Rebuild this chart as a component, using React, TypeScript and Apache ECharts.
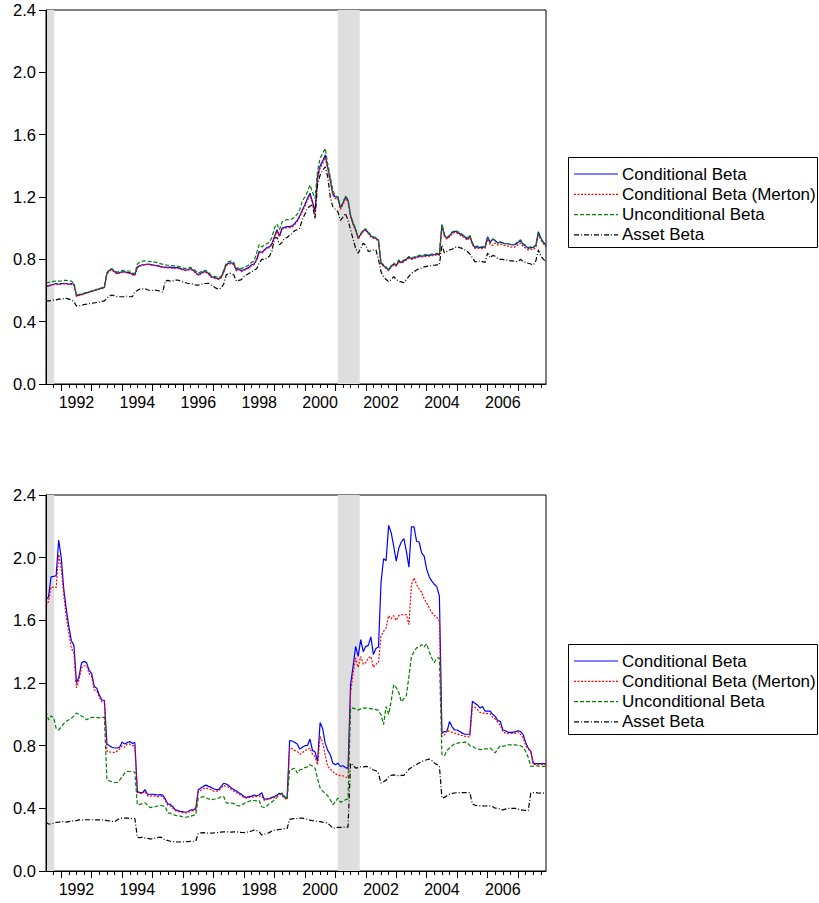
import React, { useEffect, useRef } from "react";
import * as echarts from "echarts";

// ---------- time axis (monthly, Jul 1991 .. Dec 2007) ----------
const START_YEAR = 1991.5;
const N_MONTHS = 198;
const DATES: number[] = Array.from({ length: N_MONTHS }, (_, i) => START_YEAR + i / 12);
const X_MIN = 1991.5;
const X_MAX = 2007.917;
const YEAR_TICKS = [1992, 1993, 1994, 1995, 1996, 1997, 1998, 1999, 2000, 2001, 2002, 2003, 2004, 2005, 2006, 2007];
const YEAR_LABELS = [1992, 1994, 1996, 1998, 2000, 2002, 2004, 2006];
const Y_MIN = 0;
const Y_MAX = 2.4;
const Y_STEP = 0.4;

// recession shading periods [start, end]
const RECESSIONS: [number, number][] = [
  [1991.5, 1991.77],
  [2001.08, 2001.8],
];

const SERIES_NAMES = ["Conditional Beta", "Conditional Beta (Merton)", "Unconditional Beta", "Asset Beta"];

// ---------- top panel ----------
const TOP_BLUE = [
  0.63, 0.63, 0.635, 0.64, 0.645, 0.64,
  0.645, 0.645, 0.645, 0.64, 0.645, 0.64, 0.565, 0.57, 0.575, 0.58, 0.585, 0.59,
  0.595, 0.6, 0.605, 0.61, 0.615, 0.62, 0.71, 0.73, 0.736, 0.72, 0.71, 0.715,
  0.72, 0.72, 0.715, 0.715, 0.705, 0.7, 0.75, 0.76, 0.765, 0.767, 0.77, 0.768,
  0.765, 0.762, 0.76, 0.755, 0.752, 0.75, 0.748, 0.75, 0.745, 0.748, 0.745, 0.74,
  0.735, 0.73, 0.735, 0.74, 0.73, 0.715, 0.7, 0.71, 0.72, 0.72, 0.71, 0.69,
  0.685, 0.68, 0.675, 0.685, 0.72, 0.765, 0.775, 0.778, 0.77, 0.73, 0.74, 0.725,
  0.735, 0.74, 0.75, 0.765, 0.77, 0.8, 0.85, 0.845, 0.86, 0.875, 0.88, 0.9,
  0.945, 0.99, 0.95, 1.0, 1.005, 1.01, 1.01, 1.015, 1.03, 1.05, 1.08, 1.117,
  1.15, 1.19, 1.224, 1.17, 1.106, 1.33, 1.4, 1.43, 1.47, 1.39, 1.31, 1.22,
  1.2, 1.2, 1.13, 1.16, 1.2, 1.18, 1.08, 1.03, 0.99, 0.935, 0.96, 0.985,
  0.99, 0.97, 0.95, 0.94, 0.935, 0.92, 0.775, 0.76, 0.745, 0.732, 0.755, 0.77,
  0.76, 0.79, 0.78, 0.79, 0.8, 0.813, 0.805, 0.81, 0.815, 0.82, 0.82, 0.822,
  0.825, 0.825, 0.828, 0.83, 0.834, 0.83, 1.02, 0.953, 0.935, 0.95, 0.97, 0.98,
  0.975, 0.965, 0.955, 0.945, 0.93, 0.95, 0.9, 0.877, 0.88, 0.876, 0.877, 0.88,
  0.945, 0.91, 0.93, 0.92, 0.905, 0.91, 0.905, 0.9, 0.9, 0.895, 0.892, 0.895,
  0.91, 0.92, 0.895, 0.885, 0.87, 0.877, 0.875, 0.89, 0.977, 0.935, 0.91, 0.89,
];
const TOP_RED = [
  0.625, 0.628, 0.632, 0.638, 0.64, 0.638,
  0.64, 0.642, 0.642, 0.638, 0.64, 0.636, 0.562, 0.568, 0.572, 0.578, 0.583, 0.588,
  0.592, 0.598, 0.602, 0.608, 0.612, 0.618, 0.705, 0.726, 0.732, 0.716, 0.706, 0.712,
  0.716, 0.716, 0.712, 0.71, 0.7, 0.697, 0.745, 0.757, 0.762, 0.764, 0.766, 0.764,
  0.762, 0.758, 0.756, 0.752, 0.748, 0.746, 0.745, 0.746, 0.742, 0.744, 0.742, 0.737,
  0.732, 0.727, 0.731, 0.736, 0.726, 0.712, 0.697, 0.706, 0.716, 0.716, 0.706, 0.686,
  0.681, 0.676, 0.671, 0.68, 0.715, 0.76, 0.77, 0.773, 0.765, 0.726, 0.735, 0.72,
  0.73, 0.735, 0.745, 0.76, 0.765, 0.795, 0.843, 0.84, 0.855, 0.87, 0.875, 0.895,
  0.94, 0.982, 0.944, 0.993, 0.998, 1.003, 1.004, 1.008, 1.022, 1.043, 1.072, 1.108,
  1.14, 1.18, 1.212, 1.16, 1.1, 1.31, 1.385, 1.415, 1.455, 1.38, 1.3, 1.212,
  1.19, 1.19, 1.12, 1.15, 1.19, 1.17, 1.072, 1.022, 0.983, 0.93, 0.955, 0.978,
  0.983, 0.964, 0.944, 0.935, 0.93, 0.915, 0.77, 0.755, 0.74, 0.728, 0.75, 0.765,
  0.755, 0.783, 0.775, 0.785, 0.795, 0.808, 0.8, 0.805, 0.81, 0.815, 0.815, 0.817,
  0.82, 0.82, 0.823, 0.825, 0.829, 0.825, 1.01, 0.945, 0.93, 0.945, 0.963, 0.973,
  0.968, 0.958, 0.948, 0.938, 0.923, 0.94, 0.893, 0.87, 0.872, 0.868, 0.87, 0.872,
  0.93, 0.895, 0.89, 0.905, 0.892, 0.898, 0.892, 0.888, 0.885, 0.88, 0.878, 0.88,
  0.895, 0.905, 0.882, 0.872, 0.86, 0.865, 0.862, 0.876, 0.955, 0.925, 0.9, 0.88,
];
const TOP_GREEN = [
  0.65, 0.652, 0.655, 0.658, 0.66, 0.66,
  0.662, 0.665, 0.665, 0.662, 0.66, 0.65, 0.57, 0.575, 0.578, 0.583, 0.588, 0.592,
  0.598, 0.602, 0.607, 0.612, 0.617, 0.622, 0.715, 0.735, 0.74, 0.725, 0.718, 0.722,
  0.728, 0.73, 0.725, 0.725, 0.712, 0.708, 0.77, 0.782, 0.788, 0.79, 0.788, 0.785,
  0.785, 0.782, 0.778, 0.772, 0.768, 0.765, 0.762, 0.762, 0.758, 0.758, 0.755, 0.75,
  0.745, 0.74, 0.744, 0.748, 0.738, 0.725, 0.71, 0.72, 0.73, 0.728, 0.718, 0.698,
  0.692, 0.687, 0.682, 0.692, 0.73, 0.776, 0.785, 0.788, 0.78, 0.74, 0.75, 0.74,
  0.75, 0.755, 0.765, 0.78, 0.79, 0.84, 0.896, 0.88, 0.89, 0.9, 0.91, 0.94,
  1.0, 1.027, 0.99, 1.04, 1.05, 1.055, 1.055, 1.06, 1.07, 1.09, 1.12, 1.176,
  1.2, 1.234, 1.277, 1.23, 1.19, 1.37, 1.448, 1.48, 1.512, 1.413, 1.33, 1.24,
  1.21, 1.2, 1.135, 1.165, 1.205, 1.185, 1.085, 1.035, 0.995, 0.94, 0.965, 0.99,
  0.995, 0.975, 0.955, 0.945, 0.94, 0.925, 0.78, 0.765, 0.75, 0.735, 0.76, 0.775,
  0.765, 0.795, 0.785, 0.795, 0.805, 0.818, 0.81, 0.815, 0.82, 0.825, 0.825, 0.828,
  0.83, 0.83, 0.833, 0.835, 0.838, 0.835, 1.025, 0.958, 0.94, 0.955, 0.975, 0.985,
  0.98, 0.97, 0.96, 0.95, 0.935, 0.955, 0.905, 0.882, 0.885, 0.88, 0.88, 0.885,
  0.94, 0.905, 0.93, 0.92, 0.905, 0.91, 0.905, 0.9, 0.9, 0.895, 0.893, 0.9,
  0.915, 0.925, 0.9, 0.89, 0.875, 0.88, 0.878, 0.892, 0.97, 0.93, 0.905, 0.885,
];
const TOP_BLACK = [
  0.533, 0.533, 0.535, 0.538, 0.54, 0.545,
  0.545, 0.548, 0.55, 0.545, 0.54, 0.53, 0.5, 0.502, 0.505, 0.51, 0.512, 0.515,
  0.518, 0.52, 0.523, 0.525, 0.53, 0.533, 0.55, 0.565, 0.571, 0.565, 0.56, 0.56,
  0.56, 0.56, 0.565, 0.56, 0.56, 0.592, 0.6, 0.61, 0.61, 0.612, 0.605, 0.6,
  0.6, 0.602, 0.6, 0.595, 0.59, 0.661, 0.665, 0.66, 0.662, 0.667, 0.667, 0.66,
  0.655, 0.65, 0.645, 0.645, 0.64, 0.635, 0.634, 0.64, 0.645, 0.645, 0.646, 0.635,
  0.625, 0.615, 0.608, 0.615, 0.64, 0.7, 0.71, 0.71, 0.7, 0.66, 0.665, 0.67,
  0.69, 0.7, 0.71, 0.72, 0.73, 0.74, 0.775, 0.8, 0.8, 0.807, 0.82, 0.85,
  0.935, 0.94, 0.893, 0.91, 0.935, 0.94, 0.955, 0.965, 0.985, 0.99, 1.0, 1.057,
  1.09, 1.128, 1.14, 1.15, 1.06, 1.28, 1.34, 1.37, 1.394, 1.33, 1.2, 1.138,
  1.12, 1.106, 1.05, 1.07, 1.095, 1.05, 0.99, 0.93, 0.87, 0.839, 0.87, 0.903,
  0.89, 0.85, 0.855, 0.86, 0.86, 0.8, 0.72, 0.689, 0.67, 0.657, 0.67, 0.689,
  0.67, 0.66, 0.655, 0.65, 0.67, 0.69, 0.71, 0.72, 0.732, 0.74, 0.745, 0.752,
  0.755, 0.758, 0.76, 0.762, 0.764, 0.765, 0.892, 0.84, 0.85, 0.86, 0.865, 0.875,
  0.881, 0.875, 0.87, 0.86, 0.85, 0.834, 0.81, 0.785, 0.785, 0.79, 0.785, 0.78,
  0.84, 0.81, 0.825, 0.82, 0.805, 0.8, 0.8, 0.795, 0.795, 0.79, 0.79, 0.785,
  0.787, 0.8, 0.785, 0.78, 0.775, 0.77, 0.764, 0.79, 0.86, 0.82, 0.8, 0.785,
];

// ---------- bottom panel ----------
const BOT_BLUE = [
  1.733, 1.75, 1.878, 1.88, 1.885, 2.112,
  2.0, 1.8, 1.67, 1.56, 1.47, 1.44, 1.2, 1.24, 1.328, 1.338, 1.33, 1.28,
  1.26, 1.178, 1.167, 1.125, 1.09, 1.09, 0.81, 0.8, 0.79, 0.785, 0.785, 0.79,
  0.823, 0.81, 0.82, 0.826, 0.815, 0.82, 0.507, 0.5, 0.5, 0.52, 0.49, 0.49,
  0.49, 0.488, 0.485, 0.487, 0.485, 0.46, 0.428, 0.425, 0.41, 0.39, 0.385, 0.38,
  0.378, 0.375, 0.38, 0.39, 0.39, 0.4, 0.518, 0.53, 0.54, 0.548, 0.54, 0.535,
  0.525, 0.52, 0.52, 0.54, 0.56, 0.555, 0.545, 0.53, 0.52, 0.51, 0.5, 0.49,
  0.475, 0.47, 0.475, 0.478, 0.485, 0.48, 0.485, 0.5, 0.458, 0.46, 0.462, 0.47,
  0.475, 0.485, 0.496, 0.49, 0.475, 0.465, 0.833, 0.83, 0.82, 0.81, 0.778, 0.79,
  0.8, 0.8, 0.842, 0.77, 0.76, 0.699, 0.948, 0.91, 0.816, 0.77, 0.742, 0.69,
  0.678, 0.688, 0.667, 0.672, 0.66, 0.655, 1.19, 1.306, 1.434, 1.37, 1.477, 1.4,
  1.434, 1.44, 1.494, 1.381, 1.42, 1.43, 1.84, 1.993, 1.98, 2.206, 2.16, 2.074,
  1.978, 2.06, 2.1, 2.121, 2.04, 1.939, 2.197, 2.197, 2.105, 2.1, 2.03, 2.01,
  1.925, 1.878, 1.85, 1.83, 1.814, 1.754, 0.88, 0.89, 0.89, 0.955, 0.92, 0.9,
  0.9, 0.89, 0.88, 0.873, 0.873, 0.873, 1.083, 1.07, 1.06, 1.04, 1.05, 1.02,
  1.02, 1.02, 1.0, 0.987, 0.96, 0.955, 0.9, 0.895, 0.885, 0.885, 0.885, 0.89,
  0.895, 0.89, 0.87, 0.82, 0.784, 0.765, 0.689, 0.685, 0.685, 0.686, 0.685, 0.685,
];
const BOT_RED = [
  1.69, 1.72, 1.814, 1.81, 1.81, 2.02,
  1.93, 1.76, 1.62, 1.52, 1.42, 1.39, 1.17, 1.22, 1.3, 1.31, 1.31, 1.26,
  1.24, 1.155, 1.15, 1.11, 1.08, 1.08, 0.763, 0.76, 0.757, 0.757, 0.765, 0.78,
  0.8, 0.79, 0.81, 0.81, 0.8, 0.8, 0.5, 0.495, 0.495, 0.51, 0.48, 0.48,
  0.48, 0.478, 0.475, 0.478, 0.475, 0.45, 0.42, 0.415, 0.4, 0.385, 0.38, 0.375,
  0.372, 0.37, 0.375, 0.38, 0.385, 0.39, 0.505, 0.515, 0.525, 0.53, 0.525, 0.52,
  0.51, 0.51, 0.51, 0.53, 0.546, 0.54, 0.535, 0.52, 0.51, 0.5, 0.49, 0.48,
  0.47, 0.465, 0.47, 0.47, 0.475, 0.475, 0.478, 0.48, 0.45, 0.455, 0.46, 0.465,
  0.47, 0.48, 0.49, 0.48, 0.465, 0.455, 0.785, 0.78, 0.77, 0.763, 0.745, 0.755,
  0.77, 0.775, 0.785, 0.745, 0.73, 0.678, 0.859, 0.82, 0.74, 0.667, 0.65, 0.635,
  0.62, 0.614, 0.608, 0.608, 0.6, 0.595, 1.136, 1.264, 1.36, 1.3, 1.37, 1.32,
  1.33, 1.36, 1.37, 1.3, 1.32, 1.33, 1.498, 1.53, 1.55, 1.63, 1.61, 1.63,
  1.6, 1.63, 1.635, 1.636, 1.636, 1.573, 1.83, 1.871, 1.83, 1.8, 1.78, 1.737,
  1.71, 1.68, 1.65, 1.63, 1.62, 1.594, 0.859, 0.87, 0.9, 0.89, 0.885, 0.88,
  0.876, 0.87, 0.865, 0.86, 0.858, 0.855, 1.05, 1.045, 1.03, 1.012, 1.01, 1.005,
  1.005, 1.005, 0.98, 0.97, 0.95, 0.93, 0.89, 0.88, 0.876, 0.876, 0.878, 0.88,
  0.89, 0.87, 0.85, 0.8, 0.78, 0.76, 0.68, 0.68, 0.68, 0.68, 0.68, 0.68,
];
const BOT_GREEN = [
  1.019, 0.965, 0.99, 0.98, 0.91, 0.9,
  0.92, 0.94, 0.956, 0.965, 0.975, 0.99, 1.008, 1.0, 0.99, 0.98, 0.965, 0.975,
  0.98, 0.98, 0.98, 0.978, 0.98, 0.98, 0.582, 0.575, 0.57, 0.565, 0.565, 0.58,
  0.6, 0.625, 0.635, 0.635, 0.635, 0.63, 0.422, 0.425, 0.43, 0.435, 0.42, 0.405,
  0.408, 0.41, 0.415, 0.42, 0.415, 0.41, 0.37, 0.369, 0.36, 0.355, 0.352, 0.35,
  0.345, 0.343, 0.345, 0.35, 0.355, 0.36, 0.465, 0.47, 0.475, 0.468, 0.46, 0.455,
  0.458, 0.46, 0.465, 0.475, 0.475, 0.435, 0.433, 0.433, 0.43, 0.42, 0.415, 0.42,
  0.43, 0.44, 0.445, 0.45, 0.45, 0.448, 0.45, 0.41, 0.405, 0.415, 0.43, 0.44,
  0.455, 0.47, 0.49, 0.497, 0.47, 0.458, 0.646, 0.65, 0.656, 0.625, 0.645, 0.65,
  0.66, 0.665, 0.678, 0.67, 0.656, 0.59, 0.53, 0.51, 0.497, 0.48, 0.455, 0.423,
  0.44, 0.465, 0.44, 0.445, 0.455, 0.46, 1.04, 1.04, 1.035, 1.027, 1.035, 1.04,
  1.04, 1.04, 1.035, 1.035, 1.03, 1.025, 0.997, 0.934, 1.05, 1.0, 1.083, 1.19,
  1.17, 1.14, 1.08, 1.1, 1.12, 1.243, 1.37, 1.4, 1.424, 1.43, 1.445, 1.43,
  1.45, 1.4, 1.36, 1.33, 1.36, 1.36, 0.742, 0.735, 0.77, 0.785, 0.8, 0.812,
  0.815, 0.82, 0.82, 0.822, 0.82, 0.8, 0.795, 0.785, 0.78, 0.775, 0.775, 0.78,
  0.78, 0.785, 0.77, 0.754, 0.78, 0.8, 0.795, 0.8, 0.805, 0.805, 0.805, 0.805,
  0.8, 0.8, 0.79, 0.763, 0.725, 0.667, 0.67, 0.672, 0.67, 0.67, 0.668, 0.668,
];
const BOT_BLACK = [
  0.309, 0.3, 0.3, 0.305, 0.31, 0.312,
  0.315, 0.315, 0.312, 0.315, 0.318, 0.32, 0.322, 0.326, 0.326, 0.326, 0.327, 0.327,
  0.327, 0.327, 0.326, 0.327, 0.326, 0.325, 0.322, 0.32, 0.317, 0.315, 0.325, 0.335,
  0.337, 0.338, 0.337, 0.336, 0.335, 0.335, 0.215, 0.213, 0.215, 0.21, 0.208, 0.205,
  0.205, 0.21, 0.214, 0.216, 0.21, 0.197, 0.195, 0.19, 0.188, 0.187, 0.185, 0.185,
  0.186, 0.188, 0.188, 0.19, 0.19, 0.19, 0.241, 0.243, 0.245, 0.243, 0.241, 0.242,
  0.243, 0.245, 0.247, 0.248, 0.25, 0.25, 0.25, 0.248, 0.25, 0.25, 0.248, 0.246,
  0.245, 0.248, 0.25, 0.255, 0.262, 0.258, 0.25, 0.23, 0.235, 0.24, 0.245, 0.255,
  0.262, 0.262, 0.265, 0.268, 0.27, 0.27, 0.33, 0.333, 0.335, 0.335, 0.337, 0.337,
  0.333, 0.33, 0.325, 0.322, 0.32, 0.317, 0.315, 0.312, 0.31, 0.305, 0.29, 0.273,
  0.275, 0.278, 0.278, 0.28, 0.28, 0.28, 0.688, 0.675, 0.657, 0.66, 0.665, 0.665,
  0.668, 0.665, 0.655, 0.645, 0.64, 0.621, 0.561, 0.57, 0.58, 0.6, 0.61, 0.614,
  0.61, 0.608, 0.61, 0.61, 0.63, 0.65, 0.66, 0.672, 0.68, 0.69, 0.699, 0.705,
  0.71, 0.714, 0.705, 0.69, 0.68, 0.672, 0.465, 0.47, 0.48, 0.49, 0.495, 0.498,
  0.5, 0.5, 0.5, 0.5, 0.5, 0.5, 0.428, 0.42, 0.416, 0.416, 0.416, 0.415,
  0.416, 0.416, 0.41, 0.401, 0.4, 0.395, 0.39, 0.395, 0.4, 0.4, 0.4, 0.4,
  0.395, 0.39, 0.388, 0.387, 0.386, 0.497, 0.5, 0.5, 0.498, 0.497, 0.497, 0.497,
];

const PANELS = [
  { series: [TOP_BLUE, TOP_RED, TOP_GREEN, TOP_BLACK], grid: { left: 46, top: 10, width: 500, height: 374 }, legendTop: 157 },
  { series: [BOT_BLUE, BOT_RED, BOT_GREEN, BOT_BLACK], grid: { left: 46, top: 495, width: 500, height: 376 }, legendTop: 644 },
];

const COLORS = ["#0000ff", "#ff0000", "#008000", "#000000"];
const DASHES: any[] = ["solid", [2, 1.5], [4, 2], [5, 2, 1, 2]];
const FONT = "'Liberation Sans', Arial, Helvetica, sans-serif";

function quarterTicks(): number[] {
  const out: number[] = [];
  for (let y = 1991; y <= 2007; y++) {
    for (const q of [0.25, 0.5, 0.75]) {
      const v = y + q;
      if (v > X_MIN && v < X_MAX) out.push(v);
    }
  }
  return out;
}

function buildOption() {
  const grids: any[] = [];
  const xAxes: any[] = [];
  const yAxes: any[] = [];
  const series: any[] = [];
  const graphics: any[] = [];
  const qTicks = quarterTicks();

  PANELS.forEach((p, g) => {
    grids.push({ ...p.grid, show: true, borderColor: "#000", borderWidth: 1, backgroundColor: "transparent" });
    xAxes.push({
      gridIndex: g, type: "value", min: X_MIN, max: X_MAX, position: "bottom", z: 10,
      axisLine: { show: true, onZero: false, lineStyle: { color: "#000", width: 1 } },
      axisTick: { show: true, inside: false, length: 7, customValues: YEAR_TICKS, lineStyle: { color: "#000", width: 1 } },
      axisLabel: {
        show: true, customValues: YEAR_LABELS.map((y) => y + 0.5),
        formatter: (v: number) => String(Math.floor(v)),
        fontSize: 16, color: "#000", margin: 10, fontFamily: FONT,
      },
      splitLine: { show: false },
    });
    xAxes.push({
      gridIndex: g, type: "value", min: X_MIN, max: X_MAX, position: "bottom", z: 10,
      axisLine: { show: false, onZero: false },
      axisTick: { show: true, inside: false, length: 4, customValues: qTicks, lineStyle: { color: "#000", width: 1 } },
      axisLabel: { show: false },
      splitLine: { show: false },
    });
    yAxes.push({
      gridIndex: g, type: "value", min: Y_MIN, max: Y_MAX, interval: Y_STEP, z: 10,
      axisLine: { show: true, lineStyle: { color: "#000", width: 1 } },
      axisTick: { show: true, inside: false, length: 7, lineStyle: { color: "#000", width: 1 } },
      axisLabel: { formatter: (v: number) => v.toFixed(1), fontSize: 16.5, color: "#000", margin: 10, fontFamily: FONT },
      splitLine: { show: false },
    });

    // recession shading
    series.push({
      type: "custom", xAxisIndex: g * 2, yAxisIndex: g, z: 1, silent: true,
      data: RECESSIONS.map(([a, b]) => [a, b, Y_MIN, Y_MAX]),
      encode: { x: [0, 1], y: [2, 3] },
      renderItem: (params: any, api: any) => {
        const p0 = api.coord([api.value(0), api.value(3)]);
        const p1 = api.coord([api.value(1), api.value(2)]);
        return { type: "rect", shape: { x: p0[0], y: p0[1], width: p1[0] - p0[0], height: p1[1] - p0[1] }, style: { fill: "#dedede" } };
      },
    });

    p.series.forEach((vals, i) => {
      series.push({
        name: SERIES_NAMES[i] + (g === 0 ? "" : " "),
        type: "line", xAxisIndex: g * 2, yAxisIndex: g, z: 3 + i, silent: true,
        showSymbol: false, symbol: "none",
        data: DATES.map((d, k) => [d, vals[k]]),
        lineStyle: { color: COLORS[i], width: 1.2, type: DASHES[i] },
        itemStyle: { color: COLORS[i] },
      });
    });

    // legend box
    const children: any[] = [
      { type: "rect", shape: { x: 0.5, y: 0.5, width: 249, height: 90 }, style: { fill: "#fff", stroke: "#000", lineWidth: 1 } },
    ];
    SERIES_NAMES.forEach((n, i) => {
      const cy = 17 + i * 20.3;
      children.push({
        type: "line", shape: { x1: 6, y1: cy, x2: 50, y2: cy },
        style: { stroke: COLORS[i], lineWidth: 1.2, lineDash: DASHES[i] === "solid" ? null : DASHES[i] },
      });
      children.push({
        type: "text", x: 54, y: cy,
        style: { text: n, fontSize: 17, fill: "#000", fontFamily: FONT, verticalAlign: "middle", align: "left" },
      });
    });
    graphics.push({ type: "group", x: 568, y: p.legendTop, children });
  });

  return {
    animation: false,
    backgroundColor: "#fff",
    grid: grids,
    xAxis: xAxes,
    yAxis: yAxes,
    series,
    graphic: graphics,
  };
}

export default function App() {
  const ref = useRef<HTMLDivElement>(null);
  useEffect(() => {
    if (!ref.current) return;
    const chart = echarts.init(ref.current, null, { renderer: "svg", width: 819, height: 903 });
    chart.setOption(buildOption());
    return () => chart.dispose();
  }, []);
  return <div ref={ref} style={{ position: "absolute", left: 0, top: 0, width: 819, height: 903, background: "#fff" }} />;
}
